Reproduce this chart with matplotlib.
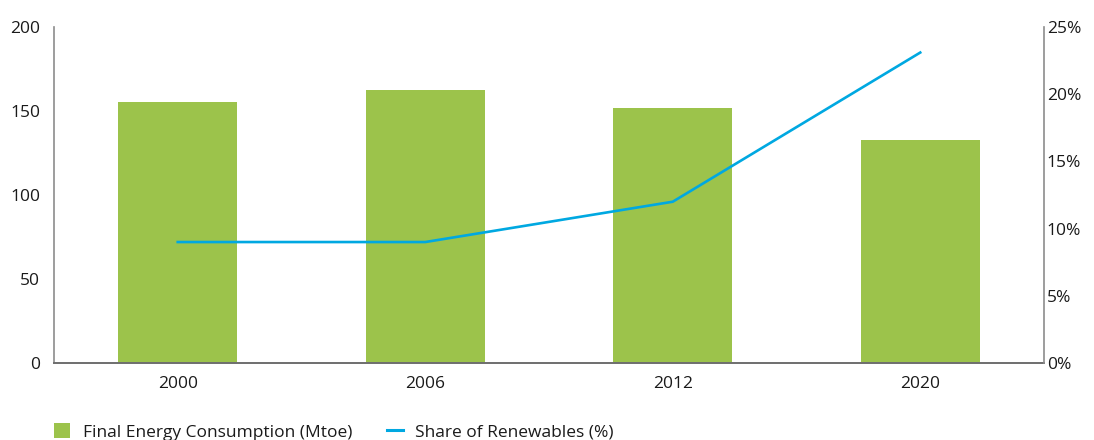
import numpy as np
import matplotlib.pyplot as plt
from matplotlib.patches import Patch
from matplotlib.lines import Line2D

plt.rcParams['font.family'] = ['Open Sans', 'DejaVu Sans']

# data
years = ["2000", "2006", "2012", "2020"]
consumption = [155.3, 162.3, 151.8, 132.6]   # Mtoe
renewables = [9.0, 9.0, 12.0, 23.1]          # %

green = "#9cc34b"
blue = "#00a8e1"
spine_col = "#8c8c8c"
txt = "#1a1a1a"
fs = 12.5

fig = plt.figure(figsize=(10.94, 4.40), dpi=100)
ax = fig.add_axes([54 / 1094, 1 - 363 / 440, 990 / 1094, 336 / 440])
x = np.arange(len(years))

ax.bar(x, consumption, width=0.48, color=green, zorder=2)
ax.set_xlim(-0.5, len(years) - 0.5)
ax.set_ylim(0, 200)
ax.set_yticks([0, 50, 100, 150, 200])
ax.set_xticks(x)
ax.set_xticklabels(years)
ax.tick_params(axis='both', length=0, labelsize=fs, colors=txt)
ax.tick_params(axis='y', pad=10)
ax.tick_params(axis='x', pad=9)

for s in ['top', 'right']:
    ax.spines[s].set_visible(False)
ax.spines['left'].set_color(spine_col)
ax.spines['bottom'].set_color("#6e6e6e")
ax.spines['left'].set_linewidth(1.2)
ax.spines['bottom'].set_linewidth(1.4)

ax2 = ax.twinx()
ax2.plot(x, renewables, color=blue, linewidth=1.9, zorder=3)
ax2.set_ylim(0, 25)
ax2.set_yticks([0, 5, 10, 15, 20, 25])
ax2.set_yticklabels([f"{v}%" for v in [0, 5, 10, 15, 20, 25]])
ax2.tick_params(axis='y', length=0, labelsize=fs, colors=txt, pad=2)
for s in ['top', 'left', 'bottom']:
    ax2.spines[s].set_visible(False)
ax2.spines['right'].set_color(spine_col)
ax2.spines['right'].set_linewidth(1.2)

handles = [Patch(facecolor=green, edgecolor='none'),
           Line2D([0], [0], color=blue, linewidth=2.2)]
labels = ["Final Energy Consumption (Mtoe)", "Share of Renewables (%)"]
fig.legend(handles, labels, loc='center left', bbox_to_anchor=(54 / 1094, 1 - 432 / 440),
           ncol=2, frameon=False, fontsize=fs, handlelength=0.95, handleheight=0.95,
           handletextpad=0.7, columnspacing=2.0, labelcolor=txt,
           borderpad=0, borderaxespad=0)

fig.savefig("out.png", dpi=100)
